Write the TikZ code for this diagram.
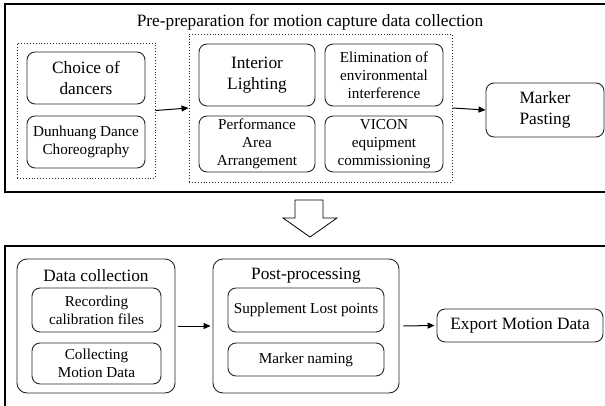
\documentclass[tikz,border=0pt]{standalone}
\usepackage{fontspec}
\setmainfont{Liberation Serif}
\usetikzlibrary{arrows.meta}
\begin{document}
\begin{tikzpicture}[x=1pt,y=-1pt,
  bigtxt/.style={font=\fontsize{17.3}{21}\selectfont},
  smalltxt/.style={font=\fontsize{15.2}{18.2}\selectfont},
  outerbox/.style={draw=black,line width=1.1pt,inner sep=0pt},
  dotbox/.style={draw=black!85,dotted,line width=0.9pt,inner sep=0pt},
  rbox/.style={draw=black!85,line width=0.9pt,rounded corners=8pt,inner sep=0pt,align=center},
  flow/.style={-{Triangle[length=7pt,width=6pt]},line width=1pt,black}]
\useasboundingbox (0,0) rectangle (605,405);
% top panel
\node[outerbox,minimum width=605pt,minimum height=188pt] (top) at (307.5,98) {};
\node[bigtxt] (title) at (310,22) {Pre-preparation for motion capture data collection};
\node[dotbox,minimum width=138pt,minimum height=135pt] (leftdot) at (86,110.5) {};
\node[rbox,bigtxt,minimum width=118pt,minimum height=52pt] (choice) at (86,78) {Choice of\\dancers};
\node[rbox,smalltxt,minimum width=118pt,minimum height=52pt] (dunhuang) at (86,142) {Dunhuang Dance\\Choreography};
\node[dotbox,minimum width=263pt,minimum height=148pt] (middot) at (320.5,108) {};
\node[rbox,bigtxt,minimum width=116pt,minimum height=62pt] (interior) at (257,75) {Interior\\Lighting};
\node[rbox,smalltxt,minimum width=118pt,minimum height=62pt] (elim) at (384,75) {Elimination of\\environmental\\interference};
\node[rbox,smalltxt,minimum width=116pt,minimum height=56pt] (perf) at (257,144) {Performance\\Area\\Arrangement};
\node[rbox,smalltxt,minimum width=118pt,minimum height=56pt] (vicon) at (384,144) {VICON\\equipment\\commissioning};
\node[rbox,bigtxt,minimum width=118pt,minimum height=54pt] (marker) at (545,110) {Marker\\Pasting};
\draw[flow] (leftdot.east) -- (middot.west);
\draw[flow] (middot.east) -- (marker.west);
% hollow arrow
\draw[line width=0.8pt,black] (295,200) -- (323,200) -- (323,218) -- (337,218) -- (310,237) -- (283,218) -- (295,218) -- cycle;
% bottom panel
\node[outerbox,minimum width=605pt,minimum height=170pt] (bottom) at (307.5,331) {};
\node[rbox,rounded corners=10pt,minimum width=158pt,minimum height=134pt] (datacoll) at (96,326) {};
\node[bigtxt] (dctitle) at (96,276) {Data collection};
\node[rbox,smalltxt,minimum width=129pt,minimum height=44pt] (recording) at (96.5,310) {Recording\\calibration files};
\node[rbox,smalltxt,minimum width=129pt,minimum height=41pt] (collecting) at (96.5,363.5) {Collecting\\Motion Data};
\node[rbox,rounded corners=10pt,minimum width=186pt,minimum height=134pt] (post) at (306,326) {};
\node[bigtxt] (pptitle) at (306,276) {Post-processing};
\node[rbox,smalltxt,minimum width=156pt,minimum height=44pt] (supp) at (306,310) {Supplement Lost points};
\node[rbox,smalltxt,minimum width=156pt,minimum height=33pt] (naming) at (306,359.5) {Marker naming};
\node[rbox,bigtxt,minimum width=166pt,minimum height=33pt] (export) at (520,325.5) {Export Motion Data};
\draw[flow,shorten <=3pt,shorten >=2pt] (datacoll.east) -- (post.west);
\draw[flow,shorten <=4pt,shorten >=2pt] (post.east) -- (export.west);
\end{tikzpicture}
\end{document}
